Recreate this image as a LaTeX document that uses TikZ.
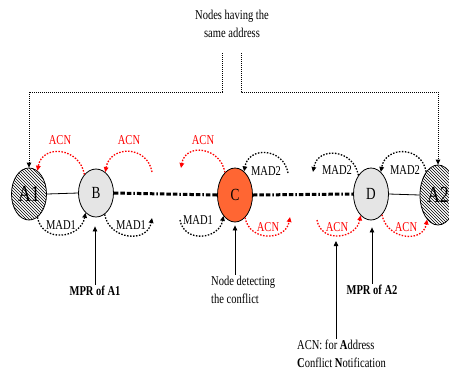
\documentclass[tikz,border=0pt]{standalone}
\usepackage{fontspec}
\setmainfont{Liberation Serif}[FakeStretch=0.78]
\usetikzlibrary{shapes.geometric,patterns,arrows.meta}
\definecolor{corange}{RGB}{255,102,51}
\begin{document}
\begin{tikzpicture}[x=1pt,y=1pt,
  nd/.style={ellipse,draw=black,line width=0.8pt,inner sep=0pt,minimum width=35pt,minimum height=48pt,font=\fontsize{17}{17}\selectfont},
  bignd/.style={nd,pattern=north west lines,font=\fontsize{23}{23}\selectfont},
  txt/.style={inner sep=1pt,font=\fontsize{13.5}{18.5}\selectfont},
  lbl/.style={inner sep=0pt,font=\fontsize{13.5}{14}\selectfont},
  tip/.style={-{Triangle[length=5pt,width=4.5pt]}},
  arc/.style={tip,line width=1.3pt,dash pattern=on 1.5pt off 1.5pt},
  acnarc/.style={arc,draw=red,-{Triangle[length=5pt,width=4.5pt,fill=red]}},
  madarc/.style={arc,draw=black},
  up/.style={out=100,in=80,looseness=1.5},
  down/.style={out=-80,in=-100,looseness=1.4},
  arr/.style={tip,line width=0.8pt},
  dotconn/.style={tip,line width=0.8pt,dash pattern=on 1pt off 1pt},
  thickdd/.style={line width=3pt,dash pattern=on 4.5pt off 2pt on 4.5pt off 2pt on 4.5pt off 2pt on 1.5pt off 2pt}
]
\useasboundingbox (0,0) rectangle (449,-376);

% nodes
\node[bignd,minimum height=52pt] (A1) at (29,-194) {A1};
\node[nd,fill=gray!20] (B) at (96,-193) {B};
\node[nd,fill=corange,minimum height=54pt] (C) at (235,-195) {C};
\node[nd,fill=gray!20,minimum height=52pt] (D) at (371,-194) {D};
\node[bignd,minimum width=36pt,minimum height=60pt] (A2) at (438,-195) {A2};

% links
\draw[line width=0.8pt] (A1.east) -- (B.west);
\draw[thickdd] (B.east) -- (C.west);
\draw[thickdd] (C.east) -- (D.west);
\draw[line width=0.8pt] (D.east) -- (A2.west);

% title and dotted connectors
\node[txt,align=center] (title) at (232,-24) {Nodes having the\\same address};
\coordinate (tl) at (222,-53);
\coordinate (tr) at (241,-53);
\draw[dotconn] (tl) -- ++(0,-39) -| (A1.north);
\draw[dotconn] (tr) -- ++(0,-39) -| (A2.north);

% free arc ends
\coordinate (b1) at (152,-172);
\coordinate (b2) at (152,-218);
\coordinate (c1) at (181,-168);
\coordinate (c2) at (288,-173);
\coordinate (c3) at (180,-220);
\coordinate (c4) at (290,-217);
\coordinate (d1) at (313,-172);
\coordinate (d2) at (317,-220);

% arcs around A1/B
\draw[acnarc] (B.122) to[up] (A1.70);
\draw[acnarc] (b1) to[up] (B.66);
\draw[madarc] (A1.-70) to[down] (B.242);
\draw[madarc] (B.-68) to[down] (b2);
% arcs around C
\draw[acnarc] (C.114) to[up] (c1);
\draw[madarc] (c2) to[up] (C.69);
\draw[madarc] (c3) to[down] (C.241);
\draw[acnarc] (C.-66) to[down] (c4);
% arcs around D/A2
\draw[madarc] (D.124) to[up] (d1);
\draw[madarc] (A2.117) to[up] (D.66);
\draw[acnarc] (d2) to[down] (D.244);
\draw[acnarc] (D.-62) to[down] (A2.246);

% arc labels
\node[lbl,text=red] (l1) at (60,-140) {ACN};
\node[lbl,text=red] (l2) at (129,-140) {ACN};
\node[lbl] (l3) at (61,-225) {MAD1};
\node[lbl] (l4) at (131,-225) {MAD1};
\node[lbl,text=red] (l5) at (203,-140) {ACN};
\node[lbl] (l6) at (266,-171) {MAD2};
\node[lbl] (l7) at (198,-220) {MAD1};
\node[lbl,text=red] (l8) at (268,-227) {ACN};
\node[lbl] (l9) at (337,-170) {MAD2};
\node[lbl] (l10) at (405,-170) {MAD2};
\node[lbl,text=red] (l11) at (337,-227) {ACN};
\node[lbl,text=red] (l12) at (406,-227) {ACN};

% bottom annotations
\node[txt,font=\fontsize{13.5}{18.5}\selectfont\bfseries] (mpr1) at (95,-291) {MPR of A1};
\draw[arr,shorten >=9pt] (mpr1.north) -- (mpr1.north |- B.south);
\node[txt,align=left,anchor=west] (det) at (210,-290) {Node detecting\\the conflict};
\draw[arr,shorten >=3pt] (det.north -| C.south) -- (C.south);
\coordinate (acnb) at (336,-241);
\node[txt,align=left,anchor=west] (note) at (296,-354) {ACN: for \textbf{A}ddress\\\textbf{C}onflict \textbf{N}otification};
\draw[arr] (note.north -| acnb) -- (acnb);
\node[txt,font=\fontsize{13.5}{18.5}\selectfont\bfseries] (mpr2) at (372,-290) {MPR of A2};
\draw[arr,shorten >=7pt] (mpr2.north) -- (mpr2.north |- D.south);
\end{tikzpicture}
\end{document}
